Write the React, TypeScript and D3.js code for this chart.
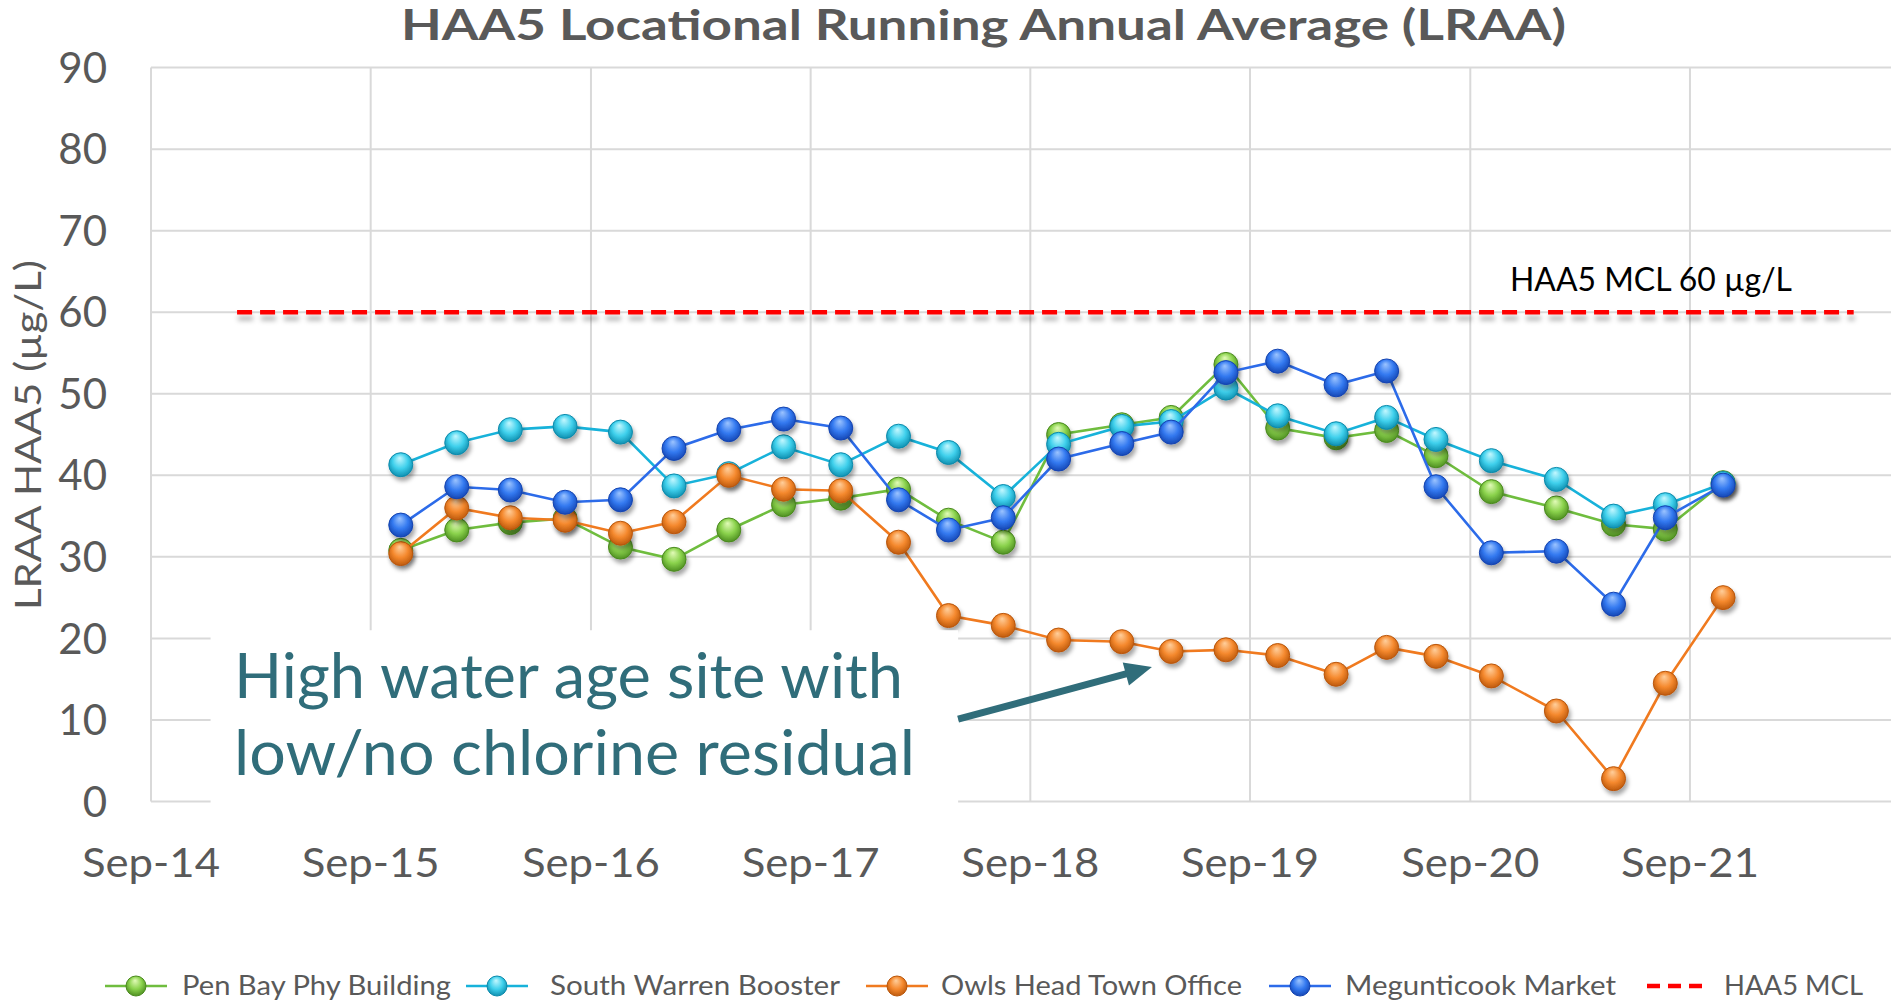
import React from 'react';
import * as d3 from 'd3';

const W = 1894;
const H = 1005;

// quarterly LRAA sample dates
const dates = [
  '2015-10-21', '2016-01-22', '2016-04-20', '2016-07-20', '2016-10-20',
  '2017-01-17', '2017-04-18', '2017-07-18', '2017-10-21', '2018-01-25',
  '2018-04-18', '2018-07-18', '2018-10-18', '2019-01-31', '2019-04-23',
  '2019-07-23', '2019-10-17', '2020-01-22', '2020-04-15', '2020-07-06',
  '2020-10-06', '2021-01-22', '2021-04-27', '2021-07-22', '2021-10-26',
];

const penBay = [30.8, 33.3, 34.2, 34.7, 31.2, 29.7, 33.3, 36.4, 37.2, 38.3, 34.5, 31.8, 45.0,
  46.2, 47.1, 53.6, 45.8, 44.6, 45.5, 42.4, 38.0, 36.0, 34.0, 33.4, 39.1];
const southWarren = [41.3, 44.0, 45.6, 46.0, 45.3, 38.7, 40.2, 43.5, 41.3, 44.8, 42.8, 37.4, 43.8,
  46.0, 46.6, 50.7, 47.3, 45.1, 47.1, 44.4, 41.8, 39.5, 35.0, 36.4, 39.0];
const owlsHead = [30.4, 36.0, 34.8, 34.5, 32.9, 34.3, 40.0, 38.3, 38.1, 31.8, 22.8, 21.6, 19.8,
  19.6, 18.4, 18.6, 17.9, 15.6, 18.9, 17.8, 15.4, 11.1, 2.8, 14.5, 25.0];
const megunticook = [33.9, 38.6, 38.2, 36.7, 37.0, 43.3, 45.6, 46.9, 45.8, 37.0, 33.3, 34.8, 42.0,
  43.9, 45.3, 52.6, 54.0, 51.1, 52.8, 38.6, 30.5, 30.7, 24.2, 34.8, 38.8];

const mclDates = ['2015-01-22', '2022-05-31'];
const mclValues = [60, 60];

const yTicks = [0, 10, 20, 30, 40, 50, 60, 70, 80, 90];
const xTickDates = ['2014-09-01', '2015-09-01', '2016-09-01', '2017-09-01', '2018-09-01',
  '2019-09-01', '2020-09-01', '2021-09-01'];

const seriesNames = ['Pen Bay Phy Building', 'South Warren Booster', 'Owls Head Town Office', 'Megunticook Market'];
const mclName = 'HAA5 MCL';

const parse = d3.timeParse('%Y-%m-%d');
const fmt = d3.timeFormat('%b-%y');

const styles = [
  { id: 'green', line: '#6fbd3e', light: '#e2fbb8', base: '#8ad24c', dark: '#4a8a1e' },
  { id: 'cyan', line: '#17b2da', light: '#c4f8ff', base: '#3fd0ec', dark: '#0b8aab' },
  { id: 'orange', line: '#f07a1f', light: '#ffcf9c', base: '#f5892e', dark: '#b9560a' },
  { id: 'blue', line: '#2c6be9', light: '#9cc4ff', base: '#3379f0', dark: '#1343b0' },
];

const gray = '#595959';
const teal = '#306d7a';
const font = 'Lato, "Open Sans", sans-serif';

export default function App() {
  const x = d3.scaleTime()
    .domain([parse('2014-09-01')!, parse('2022-08-01')!])
    .range([151, 1891]);
  const y = d3.scaleLinear().domain([0, 90]).range([801.5, 67.6]);

  const all = [penBay, southWarren, owlsHead, megunticook];
  const series = all.map((vals, i) => ({
    name: seriesNames[i],
    style: styles[i],
    pts: vals.map((v, j) => ({ d: parse(dates[j])!, v })),
  }));

  const line = d3.line<{ d: Date; v: number }>()
    .x(p => x(p.d))
    .y(p => y(p.v));

  const mclPts = mclDates.map((d, i) => ({ d: parse(d)!, v: mclValues[i] }));

  // annotation box + arrow anchored in data space
  const boxX0 = x(parse('2014-12-09')!);
  const boxX1 = x(parse('2018-05-04')!);
  const boxY0 = y(21.0);
  const boxY1 = y(-0.8);
  const a0 = [x(parse('2018-05-04')!), y(10.1)];
  const a1 = [x(parse('2019-03-22')!), y(16.5)];
  const dx = a1[0] - a0[0], dy = a1[1] - a0[1];
  const len = Math.hypot(dx, dy);
  const ux = dx / len, uy = dy / len;
  const headL = 27, headW = 12;
  const bx = a1[0] - ux * headL, by = a1[1] - uy * headL;
  const head = [
    [a1[0], a1[1]],
    [bx - uy * headW, by + ux * headW],
    [bx + uy * headW, by - ux * headW],
  ].map(p => p.join(',')).join(' ');

  const legendItems = [
    { x: 105, tx: 182, tl: 269 },
    { x: 466, tx: 550, tl: 290 },
    { x: 866, tx: 941, tl: 301 },
    { x: 1269, tx: 1345, tl: 271 },
  ];
  const legendY = 986;

  return (
    <svg width={W} height={H} style={{ position: 'absolute', left: 0, top: 0, background: '#fff' }}
      fontFamily={font}>
      <defs>
        {styles.map(s => (
          <radialGradient key={s.id} id={`grad-${s.id}`} cx="50%" cy="45%" r="58%" fx="45%" fy="22%">
            <stop offset="0%" stopColor={s.light} />
            <stop offset="55%" stopColor={s.base} />
            <stop offset="100%" stopColor={s.dark} />
          </radialGradient>
        ))}
        <filter id="shadow" x="-50%" y="-50%" width="200%" height="200%">
          <feDropShadow dx="2" dy="4" stdDeviation="2" floodColor="#000" floodOpacity="0.35" />
        </filter>
        <filter id="blur" filterUnits="userSpaceOnUse" x={0} y={0} width={W} height={H}>
          <feGaussianBlur stdDeviation="2.5" />
        </filter>
      </defs>

      <rect x={0} y={0} width={W} height={H} fill="#fff" />

      {/* title */}
      <text x={(401 + 1566) / 2} y={40} textAnchor="middle" fontSize={42} fontWeight="bold" fill={gray}
        textLength={1165} lengthAdjust="spacingAndGlyphs">
        HAA5 Locational Running Annual Average (LRAA)
      </text>

      {/* grid */}
      <g stroke="#d9d9d9" strokeWidth={2}>
        {yTicks.map(t => (
          <line key={t} x1={x.range()[0]} x2={x.range()[1]} y1={y(t)} y2={y(t)} />
        ))}
        {xTickDates.map(t => (
          <line key={t} x1={x(parse(t)!)} x2={x(parse(t)!)} y1={y(90)} y2={y(0)} />
        ))}
      </g>

      {/* y ticks */}
      {yTicks.map(t => (
        <text key={t} x={107} y={y(t)} dy="0.36em" textAnchor="end" fontSize={42} fill={gray}>{t}</text>
      ))}
      {/* x ticks */}
      {xTickDates.map(t => (
        <text key={t} x={x(parse(t)!)} y={877} textAnchor="middle" fontSize={40} fill={gray}
          textLength={138} lengthAdjust="spacingAndGlyphs">{fmt(parse(t)!)}</text>
      ))}

      {/* y axis title */}
      <text transform={`translate(41,435) rotate(-90)`} textAnchor="middle" fontSize={37} fill={gray}
        textLength={350} lengthAdjust="spacingAndGlyphs">LRAA HAA5 (µg/L)</text>

      {/* MCL */}
      <path d={line(mclPts)!} transform="translate(1,6)" fill="none" stroke="#000" strokeOpacity={0.3}
        strokeWidth={4.5} strokeDasharray="15,8" filter="url(#blur)" />
      <path d={line(mclPts)!} fill="none" stroke="#ff0000" strokeWidth={4.5} strokeDasharray="15,8" />
      <text x={1510} y={291} fontSize={33} fill="#000" textLength={282} lengthAdjust="spacingAndGlyphs">
        HAA5 MCL 60 µg/L
      </text>

      {/* series */}
      {series.map(s => (
        <g key={s.name}>
          <path d={line(s.pts)!} fill="none" stroke={s.style.line} strokeWidth={2.6} />
          {s.pts.map((p, j) => (
            <circle key={j} cx={x(p.d)} cy={y(p.v)} r={12} fill={`url(#grad-${s.style.id})`}
              stroke={s.style.dark} strokeWidth={1} filter="url(#shadow)" />
          ))}
        </g>
      ))}

      {/* annotation */}
      <rect x={boxX0} y={boxY0} width={boxX1 - boxX0} height={boxY1 - boxY0} fill="#fff" />
      <text x={234} y={698} fontSize={62} fill={teal} textLength={669} lengthAdjust="spacingAndGlyphs">
        High water age site with
      </text>
      <text x={234} y={775} fontSize={62} fill={teal} textLength={681} lengthAdjust="spacingAndGlyphs">
        low/no chlorine residual
      </text>
      <line x1={a0[0]} y1={a0[1]} x2={bx + ux * 2} y2={by + uy * 2} stroke={teal} strokeWidth={7} />
      <polygon points={head} fill={teal} />

      {/* legend */}
      {series.map((s, i) => (
        <g key={s.name}>
          <line x1={legendItems[i].x} x2={legendItems[i].x + 62} y1={legendY} y2={legendY}
            stroke={s.style.line} strokeWidth={2.6} />
          <circle cx={legendItems[i].x + 31} cy={legendY} r={10} fill={`url(#grad-${s.style.id})`}
            stroke={s.style.dark} strokeWidth={1} />
          <text x={legendItems[i].tx} y={legendY} dy="0.35em" fontSize={27} fill={gray}
            textLength={legendItems[i].tl} lengthAdjust="spacingAndGlyphs">{s.name}</text>
        </g>
      ))}
      <line x1={1647} x2={1707} y1={legendY} y2={legendY} stroke="#ff0000" strokeWidth={4.5}
        strokeDasharray="13,8" />
      <text x={1724} y={legendY} dy="0.35em" fontSize={27} fill={gray} textLength={139}
        lengthAdjust="spacingAndGlyphs">{mclName}</text>
    </svg>
  );
}
